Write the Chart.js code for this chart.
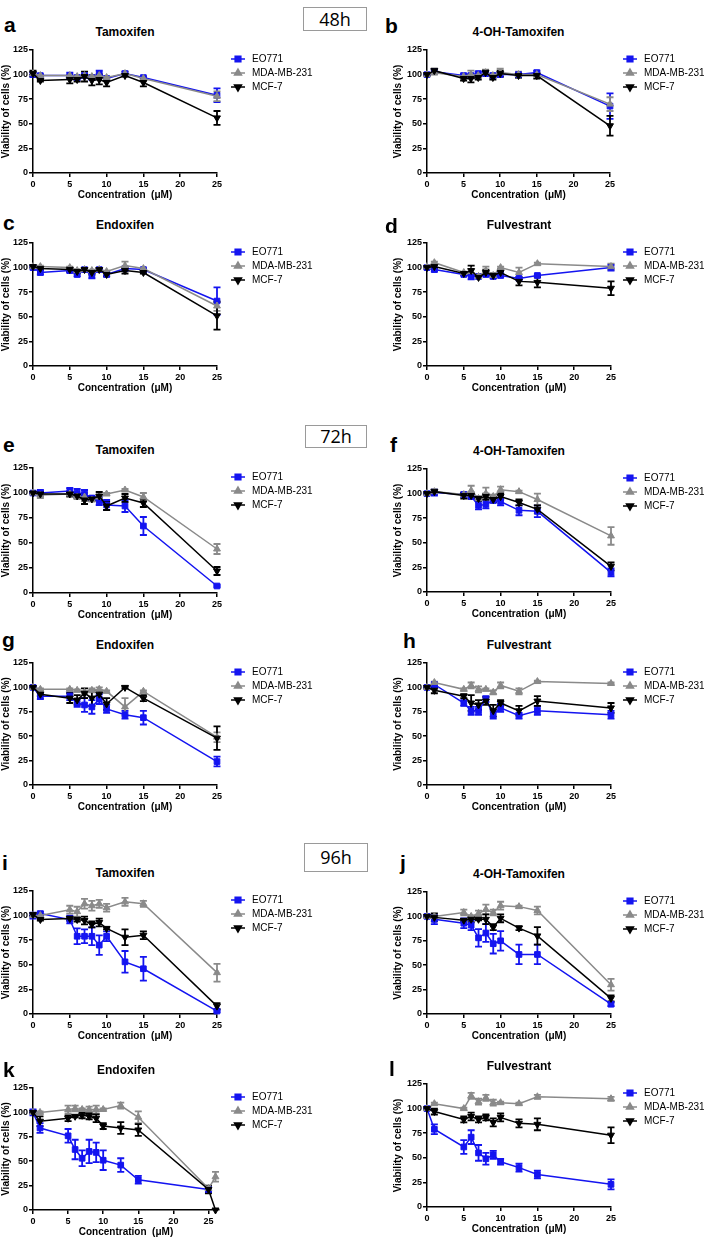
<!DOCTYPE html>
<html>
<head>
<meta charset="utf-8">
<script src="https://cdn.jsdelivr.net/npm/chart.js@4.4.1/dist/chart.umd.min.js"></script>
<style>
  body { margin: 0; background: #fff; width: 704px; height: 1240px; position: relative; overflow: hidden;
         font-family: "Liberation Sans", Arial, sans-serif; }
  canvas { position: absolute; }
  .lt { position: absolute; font-weight: bold; font-size: 21px; line-height: 21px; }
  .ttl { position: absolute; font-weight: bold; font-size: 12px; width: 200px; text-align: center; line-height: 14px; }
  .tb { position: absolute; border: 1px solid #9a9a9a; font-family: "Open Sans", sans-serif; font-size: 18px;
        text-align: center; box-sizing: border-box; }
</style>
</head>
<body>
<script>
// concentrations (µM)
const conc  = [0, 1, 5, 6, 7, 8, 9, 10, 12.5, 15, 25];
const concK = [0, 1, 5, 6, 7, 8, 9, 10, 12.5, 15, 25, 26];

const seriesNames = ['EO771', 'MDA-MB-231', 'MCF-7'];
const yTicks = [0, 25, 50, 75, 100, 125];
const xTicks = [0, 5, 10, 15, 20, 25];

// ---- 48h ----
const a_EO771 = [100, 99, 99, 97, 99, 97, 101, 96, 101, 97, 79];
const a_EO771_sd = [2, 1, 3, 2, 2, 2, 3, 2, 2, 1, 7];
const a_MDA = [101, 99, 99, 98, 99, 98, 99, 97, 101, 96, 78];
const a_MDA_sd = [2, 1, 1, 1, 2, 1, 2, 1, 2, 1, 5];
const a_MCF = [101, 94, 95, 95, 98, 94, 95, 92, 99, 92, 56];
const a_MCF_sd = [3, 1, 4, 2, 5, 5, 5, 4, 1, 4, 7];

const b_EO771 = [100, 103, 99, 99, 101, 101, 99, 100, 100, 102, 68];
const b_EO771_sd = [1, 2, 2, 2, 2, 2, 2, 2, 2, 2, 13];
const b_MDA = [100, 102, 98, 100, 99, 102, 99, 102, 100, 100, 70];
const b_MDA_sd = [1, 2, 2, 4, 2, 3, 2, 4, 3, 2, 7];
const b_MCF = [100, 104, 96, 96, 97, 102, 97, 101, 99, 99, 48];
const b_MCF_sd = [1, 2, 2, 4, 2, 2, 2, 3, 2, 3, 10];

const c_EO771 = [100, 95, 97, 93, 98, 92, 98, 93, 99, 98, 66];
const c_EO771_sd = [1, 2, 2, 2, 1, 3, 1, 2, 2, 1, 14];
const c_MDA = [101, 101, 100, 97, 98, 97, 98, 96, 102, 99, 61];
const c_MDA_sd = [1, 1, 1, 1, 1, 1, 1, 1, 4, 1, 5];
const c_MCF = [101, 99, 98, 96, 98, 95, 98, 93, 97, 95, 51];
const c_MCF_sd = [1, 1, 2, 2, 1, 2, 1, 2, 3, 1, 14];

const d_EO771 = [100, 98, 93, 91, 91, 93, 91, 92, 89, 92, 100];
const d_EO771_sd = [1, 2, 1, 3, 1, 2, 2, 2, 1, 1, 3];
const d_MDA = [101, 105, 95, 96, 91, 97, 92, 100, 95, 104, 101];
const d_MDA_sd = [1, 1, 1, 2, 1, 4, 1, 1, 5, 1, 3];
const d_MCF = [100, 101, 94, 97, 90, 95, 92, 95, 86, 85, 79];
const d_MCF_sd = [1, 2, 1, 5, 1, 3, 2, 3, 4, 5, 7];

// ---- 72h ----
const e_EO771 = [100, 100, 102, 100, 99, 95, 92, 88, 87, 67, 7];
const e_EO771_sd = [1, 3, 3, 4, 4, 2, 4, 5, 6, 9, 1];
const e_MDA = [100, 98, 99, 96, 96, 93, 96, 99, 103, 96, 44];
const e_MDA_sd = [1, 3, 3, 2, 4, 1, 2, 1, 1, 4, 5];
const e_MCF = [100, 99, 99, 97, 93, 94, 97, 87, 95, 90, 22];
const e_MCF_sd = [1, 2, 2, 2, 4, 2, 4, 4, 4, 4, 4];

const f_EO771 = [100, 101, 99, 97, 88, 89, 93, 92, 83, 82, 20];
const f_EO771_sd = [1, 3, 2, 2, 4, 4, 2, 4, 5, 6, 4];
const f_MDA = [100, 102, 99, 103, 95, 100, 97, 104, 102, 94, 57];
const f_MDA_sd = [1, 2, 2, 5, 2, 6, 2, 3, 1, 6, 9];
const f_MCF = [100, 102, 98, 98, 95, 97, 94, 97, 91, 84, 26];
const f_MCF_sd = [1, 2, 3, 3, 2, 3, 3, 3, 3, 4, 4];

const g_EO771 = [100, 91, 91, 84, 82, 80, 88, 78, 72, 69, 24];
const g_EO771_sd = [1, 3, 4, 4, 7, 7, 5, 4, 4, 7, 5];
const g_MDA = [100, 98, 98, 97, 95, 97, 98, 96, 80, 96, 49];
const g_MDA_sd = [1, 1, 1, 1, 1, 2, 2, 1, 9, 1, 5];
const g_MCF = [100, 93, 89, 87, 94, 89, 93, 83, 100, 89, 48];
const g_MCF_sd = [1, 2, 5, 5, 5, 8, 4, 6, 1, 3, 12];

const h_EO771 = [100, 103, 84, 76, 76, 88, 72, 79, 71, 76, 72];
const h_EO771_sd = [1, 1, 3, 4, 4, 3, 4, 4, 3, 4, 4];
const h_MDA = [100, 105, 98, 102, 98, 98, 95, 102, 96, 106, 104];
const h_MDA_sd = [1, 1, 1, 3, 3, 1, 2, 3, 3, 1, 1];
const h_MCF = [100, 97, 91, 84, 82, 86, 76, 84, 76, 86, 79];
const h_MCF_sd = [1, 3, 2, 8, 5, 4, 6, 3, 5, 5, 5];

// ---- 96h ----
const i_EO771 = [100, 102, 96, 79, 79, 79, 70, 79, 53, 46, 3];
const i_EO771_sd = [3, 2, 4, 8, 7, 9, 10, 5, 11, 12, 1];
const i_MDA = [100, 100, 106, 104, 112, 110, 112, 108, 114, 112, 42];
const i_MDA_sd = [1, 3, 4, 5, 5, 5, 4, 4, 4, 3, 9];
const i_MCF = [101, 96, 97, 96, 95, 91, 93, 87, 78, 80, 8];
const i_MCF_sd = [1, 1, 2, 2, 4, 3, 4, 1, 8, 4, 3];

const j_EO771 = [100, 97, 93, 91, 78, 83, 72, 75, 61, 61, 10];
const j_EO771_sd = [1, 5, 5, 5, 9, 9, 10, 10, 10, 10, 2];
const j_MDA = [100, 100, 104, 100, 103, 107, 104, 111, 110, 106, 30];
const j_MDA_sd = [1, 1, 3, 1, 3, 5, 3, 4, 1, 4, 6];
const j_MCF = [100, 99, 96, 97, 97, 97, 89, 98, 88, 80, 16];
const j_MCF_sd = [1, 4, 1, 3, 1, 5, 3, 4, 2, 9, 3];

const k_EO771 = [100, 84, 76, 62, 53, 60, 59, 51, 46, 31, 21, null];
const k_EO771_sd = [3, 5, 7, 10, 8, 12, 10, 10, 7, 4, 3, 0];
const k_MDA = [100, 100, 103, 104, 103, 103, 103, 103, 107, 95, 22, 34];
const k_MDA_sd = [1, 1, 4, 3, 1, 3, 4, 1, 3, 6, 2, 5];
const k_MCF = [100, 91, 94, 96, 97, 96, 94, 86, 84, 82, 21, 0];
const k_MCF_sd = [1, 5, 3, 1, 3, 3, 4, 3, 6, 6, 4, 0];

const l_EO771 = [100, 79, 61, 71, 55, 49, 53, 46, 40, 33, 23];
const l_EO771_sd = [1, 5, 7, 7, 8, 6, 4, 3, 4, 4, 5];
const l_MDA = [100, 105, 100, 113, 107, 111, 106, 106, 105, 112, 110];
const l_MDA_sd = [1, 1, 1, 3, 3, 3, 3, 1, 1, 2, 2];
const l_MCF = [100, 97, 89, 92, 89, 91, 86, 91, 85, 84, 73];
const l_MCF_sd = [1, 3, 3, 4, 3, 3, 4, 4, 4, 6, 8];

// panel table: data + where each plot sits on the page
const panels = [
  {id: 'a', title: 'Tamoxifen',      x: conc,  s: [a_EO771, a_MDA, a_MCF], e: [a_EO771_sd, a_MDA_sd, a_MCF_sd], col: 0, top: 50,   bottom: 173,  right: 217, xmax: 25,   lx: 4,   ly: 14},
  {id: 'b', title: '4-OH-Tamoxifen', x: conc,  s: [b_EO771, b_MDA, b_MCF], e: [b_EO771_sd, b_MDA_sd, b_MCF_sd], col: 1, top: 50,   bottom: 173,  right: 610, xmax: 25,   lx: 385, ly: 15},
  {id: 'c', title: 'Endoxifen',      x: conc,  s: [c_EO771, c_MDA, c_MCF], e: [c_EO771_sd, c_MDA_sd, c_MCF_sd], col: 0, top: 243,  bottom: 366,  right: 217, xmax: 25,   lx: 3,   ly: 212},
  {id: 'd', title: 'Fulvestrant',    x: conc,  s: [d_EO771, d_MDA, d_MCF], e: [d_EO771_sd, d_MDA_sd, d_MCF_sd], col: 1, top: 243,  bottom: 366,  right: 611, xmax: 25,   lx: 385, ly: 215},
  {id: 'e', title: 'Tamoxifen',      x: conc,  s: [e_EO771, e_MDA, e_MCF], e: [e_EO771_sd, e_MDA_sd, e_MCF_sd], col: 0, top: 468,  bottom: 593,  right: 217, xmax: 25,   lx: 3,   ly: 434},
  {id: 'f', title: '4-OH-Tamoxifen', x: conc,  s: [f_EO771, f_MDA, f_MCF], e: [f_EO771_sd, f_MDA_sd, f_MCF_sd], col: 1, top: 469,  bottom: 592,  right: 611, xmax: 25,   lx: 390, ly: 434},
  {id: 'g', title: 'Endoxifen',      x: conc,  s: [g_EO771, g_MDA, g_MCF], e: [g_EO771_sd, g_MDA_sd, g_MCF_sd], col: 0, top: 663,  bottom: 785,  right: 217, xmax: 25,   lx: 2,   ly: 629},
  {id: 'h', title: 'Fulvestrant',    x: conc,  s: [h_EO771, h_MDA, h_MCF], e: [h_EO771_sd, h_MDA_sd, h_MCF_sd], col: 1, top: 663,  bottom: 785,  right: 611, xmax: 25,   lx: 403, ly: 630},
  {id: 'i', title: 'Tamoxifen',      x: conc,  s: [i_EO771, i_MDA, i_MCF], e: [i_EO771_sd, i_MDA_sd, i_MCF_sd], col: 0, top: 891,  bottom: 1014, right: 217, xmax: 25,   lx: 2,   ly: 852},
  {id: 'j', title: '4-OH-Tamoxifen', x: conc,  s: [j_EO771, j_MDA, j_MCF], e: [j_EO771_sd, j_MDA_sd, j_MCF_sd], col: 1, top: 892,  bottom: 1014, right: 611, xmax: 25,   lx: 400, ly: 852},
  {id: 'k', title: 'Endoxifen',      x: concK, s: [k_EO771, k_MDA, k_MCF], e: [k_EO771_sd, k_MDA_sd, k_MCF_sd], col: 0, top: 1088, bottom: 1210, right: 219, xmax: 26.5, lx: 3,   ly: 1059},
  {id: 'l', title: 'Fulvestrant',    x: conc,  s: [l_EO771, l_MDA, l_MCF], e: [l_EO771_sd, l_MDA_sd, l_MCF_sd], col: 1, top: 1084, bottom: 1207, right: 611, xmax: 25,   lx: 389, ly: 1058}
];

const timeBoxes = [
  {text: '48h', left: 303, top: 7,   w: 64, h: 24},
  {text: '72h', left: 305, top: 425, w: 62, h: 23},
  {text: '96h', left: 304, top: 843, w: 64, h: 29}
];

const colors = ['#1414f0', '#8a8a8a', '#000000'];
const styles = ['rect', 'triangle', 'triangle'];
const rotations = [0, 0, 180];
const FONT = '"Liberation Sans", Arial, sans-serif';

// error bars drawn under the lines, through the chart scales
const errorBars = {
  id: 'errorBars',
  beforeDatasetsDraw(chart) {
    const ctx = chart.ctx, xs = chart.scales.x, ys = chart.scales.y;
    chart.data.datasets.forEach(ds => {
      ctx.save();
      ctx.strokeStyle = ds.borderColor;
      ctx.lineWidth = 1.8;
      ds.data.forEach((p, i) => {
        const sd = ds.sd[i];
        if (p.y == null || !sd) return;
        const px = xs.getPixelForValue(p.x);
        const y1 = ys.getPixelForValue(p.y - sd), y2 = ys.getPixelForValue(p.y + sd);
        ctx.beginPath();
        ctx.moveTo(px, y1); ctx.lineTo(px, y2);
        ctx.moveTo(px - 3.5, y1); ctx.lineTo(px + 3.5, y1);
        ctx.moveTo(px - 3.5, y2); ctx.lineTo(px + 3.5, y2);
        ctx.stroke();
      });
      ctx.restore();
    });
  }
};

// Prism-like legend: short line with the marker in the middle
const sideLegend = {
  id: 'sideLegend',
  afterDraw(chart, args, opts) {
    const ctx = chart.ctx;
    chart.data.datasets.forEach((ds, i) => {
      const y = opts.y0 + i * 14;
      ctx.save();
      ctx.strokeStyle = ds.borderColor;
      ctx.lineWidth = 1.5;
      ctx.beginPath(); ctx.moveTo(opts.x0, y); ctx.lineTo(opts.x0 + 14, y); ctx.stroke();
      ctx.fillStyle = ds.borderColor;
      Chart.helpers.drawPoint(ctx, {pointStyle: ds.pointStyle, rotation: ds.pointRotation, radius: 4, borderWidth: 1}, opts.x0 + 7, y);
      ctx.fillStyle = '#000';
      ctx.font = '10px ' + FONT;
      ctx.textBaseline = 'middle';
      ctx.fillText(ds.label, opts.x0 + 21, y);
      ctx.restore();
    });
  }
};

function addDiv(cls, text, css) {
  const d = document.createElement('div');
  d.className = cls;
  d.textContent = text;
  Object.assign(d.style, css);
  document.body.appendChild(d);
}

timeBoxes.forEach(t => addDiv('tb', t.text, {
  left: t.left + 'px', top: t.top + 'px', width: t.w + 'px', height: t.h + 'px', lineHeight: (t.h - 2) + 'px'
}));

panels.forEach(p => {
  const colX = p.col ? 352 : 0;
  const axLeft = p.col ? 427 : 33;
  const padL = p.col ? 40 : 0;
  const yW = axLeft - colX - padL;
  const W = 352, H = (p.bottom - p.top) + 8 + 34;

  const cv = document.createElement('canvas');
  cv.width = W; cv.height = H;
  cv.style.left = colX + 'px';
  cv.style.top = (p.top - 8) + 'px';
  document.body.appendChild(cv);

  addDiv('lt', p.id, {left: p.lx + 'px', top: p.ly + 'px'});
  addDiv('ttl', p.title, {left: ((axLeft + p.right) / 2 - 100) + 'px', top: (p.top - 25) + 'px'});

  const datasets = p.s.map((vals, k) => ({
    label: seriesNames[k],
    data: p.x.map((x, i) => ({x: x, y: vals[i]})),
    sd: p.e[k],
    borderColor: colors[k],
    backgroundColor: colors[k],
    pointBackgroundColor: colors[k],
    pointBorderColor: colors[k],
    pointStyle: styles[k],
    pointRotation: rotations[k],
    pointRadius: 4,
    pointBorderWidth: 1,
    borderWidth: 1.5,
    tension: 0,
    spanGaps: false,
    clip: false,
    order: 3 - k
  }));

  new Chart(cv.getContext('2d'), {
    type: 'line',
    data: {datasets: datasets},
    plugins: [errorBars, sideLegend],
    options: {
      responsive: false,
      animation: false,
      events: [],
      layout: {padding: {left: padL, right: W - (p.right - colX), top: 8, bottom: 0}},
      plugins: {
        legend: {display: false},
        tooltip: {enabled: false},
        sideLegend: {x0: p.col ? 271 : 231, y0: 17}
      },
      scales: {
        x: {
          type: 'linear', min: 0, max: p.xmax,
          afterBuildTicks: s => { s.ticks = xTicks.map(v => ({value: v})); },
          ticks: {color: '#000', padding: 2, font: {family: FONT, size: 9, weight: 'bold'}},
          grid: {drawOnChartArea: false, drawTicks: true, tickLength: 4, color: '#000', lineWidth: 1.5},
          border: {color: '#000', width: 1.5},
          title: {display: true, text: 'Concentration  (μM)', color: '#000',
                  font: {family: FONT, size: 10, weight: 'bold'}, padding: {top: 0, bottom: 6}},
          afterFit: s => { s.height = 34; s.paddingLeft = 0; s.paddingRight = 0; }
        },
        y: {
          min: 0, max: 125,
          afterBuildTicks: s => { s.ticks = yTicks.map(v => ({value: v})); },
          ticks: {color: '#000', padding: 1, font: {family: FONT, size: 9, weight: 'bold'}},
          grid: {drawOnChartArea: false, drawTicks: true, tickLength: 4, color: '#000', lineWidth: 1.5},
          border: {color: '#000', width: 1.5},
          title: {display: true, text: 'Viability of cells (%)', color: '#000',
                  font: {family: FONT, size: 10, weight: 'bold'}, padding: {top: 0, bottom: 0}},
          afterFit: s => { s.width = yW; s.paddingTop = 0; s.paddingBottom = 0; }
        }
      }
    }
  });
});
</script>
</body>
</html>
